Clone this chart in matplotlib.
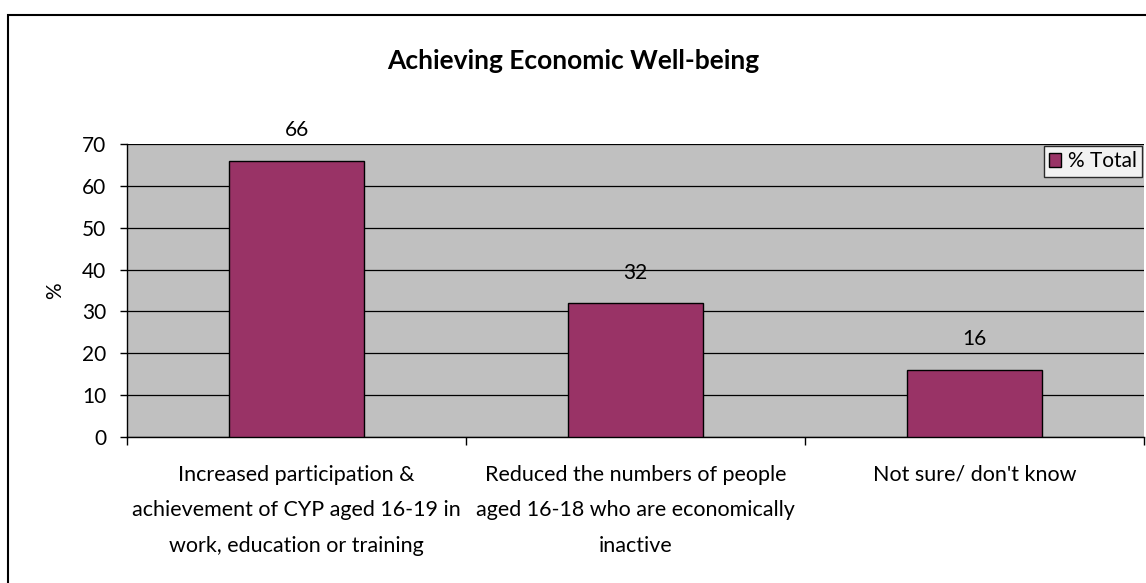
import matplotlib.pyplot as plt
from matplotlib.patches import Rectangle

categories = [
    "Increased participation &\nachievement of CYP aged 16-19 in\nwork, education or training",
    "Reduced the numbers of people\naged 16-18 who are economically\ninactive",
    "Not sure/ don't know",
]
values = [66, 32, 16]
series_name = "% Total"
y_ticks = [0, 10, 20, 30, 40, 50, 60, 70]

W, H = 1146, 583
fig = plt.figure(figsize=(W / 100, H / 100), dpi=100)
plt.rcParams['font.family'] = ['Lato', 'DejaVu Sans']
fs = 15

# chart border, open on the right and bottom edges
fig.add_artist(Rectangle((8 / W, -0.1), 1.2, 1.1 - 15 / H, transform=fig.transFigure,
                         fill=False, edgecolor='black', linewidth=1.5))

ax = fig.add_axes([127 / W, 1 - 437 / H, (1144 - 127) / W, (437 - 144) / H])
ax.set_facecolor('#C0C0C0')

x = range(len(values))
bars = ax.bar(x, values, width=0.4, color='#993366', edgecolor='black', linewidth=1,
              label=series_name, zorder=3)
for b, v in zip(bars, values):
    ax.annotate(str(v), (b.get_x() + b.get_width() / 2, v), xytext=(0, 22),
                textcoords='offset points', ha='center', va='center', fontsize=fs)

ax.set_xlim(-0.5, len(values) - 0.5)
ax.set_ylim(0, 70)
ax.set_yticks(y_ticks)
ax.tick_params(axis='y', labelsize=fs, length=5, direction='out', width=1, pad=10)
ax.yaxis.grid(True, color='black', linewidth=0.9, zorder=1)

# category boundaries as ticks
ax.set_xticks([i - 0.5 for i in range(len(values) + 1)])
ax.set_xticklabels([])
ax.tick_params(axis='x', length=6, direction='out', width=1)
for i, c in enumerate(categories):
    ax.annotate(c, (i, 0), xytext=(0, -20), textcoords='offset points',
                ha='center', va='top', fontsize=15.5, linespacing=1.98)

for s in ['top', 'right']:
    ax.spines[s].set_visible(False)
ax.spines['left'].set_linewidth(1)
ax.spines['bottom'].set_linewidth(1)

ax.set_ylabel('%', fontsize=fs, labelpad=12)
fig.text(0.5, 1 - 61 / H, 'Achieving Economic Well-being', ha='center', va='center',
         fontsize=19, fontweight='bold')

leg = ax.legend(loc='upper right', bbox_to_anchor=(1.0, 1.0), fontsize=fs, frameon=True,
                fancybox=False, edgecolor='black', handlelength=0.6, handleheight=0.6,
                handletextpad=0.3, borderpad=0.25, borderaxespad=0.1)
leg.get_frame().set_linewidth(1)

fig.savefig('out.png', dpi=100)
